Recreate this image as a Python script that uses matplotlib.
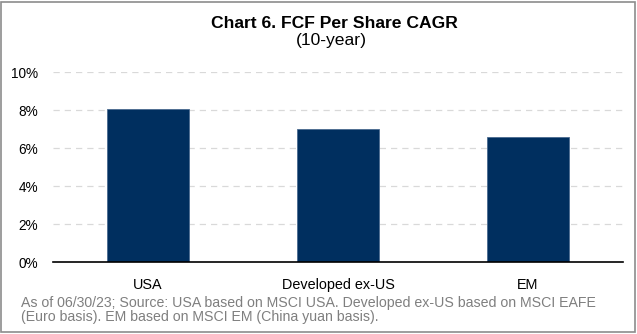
import matplotlib
matplotlib.use("Agg")
from matplotlib import pyplot as plt
from matplotlib.patches import Rectangle

categories = ["USA", "Developed ex-US", "EM"]
cagr = [8.05, 7.0, 6.6]
yticks = [0, 2, 4, 6, 8, 10]
ytick_labels = ["0%", "2%", "4%", "6%", "8%", "10%"]
notes = ["As of 06/30/23; Source: USA based on MSCI USA. Developed ex-US based on MSCI EAFE",
         "(Euro basis). EM based on MSCI EM (China yuan basis)."]

plt.rcParams['font.family'] = ['Liberation Sans', 'DejaVu Sans']

fig = plt.figure(figsize=(6.37, 3.34), dpi=100)
ax = fig.add_axes([53 / 637, 1 - 262 / 334, 570 / 637, 190 / 334])

x = range(len(categories))
ax.bar(x, cagr, width=0.43, color='#002f5f', edgecolor='#4a6a90', linewidth=0.6, zorder=3)

ax.set_ylim(0, 10)
ax.set_xlim(-0.5, 2.5)
ax.set_yticks(yticks)
ax.set_yticklabels(ytick_labels, fontsize=9.8)
ax.set_xticks(list(x))
ax.set_xticklabels(categories, fontsize=10.4)
ax.tick_params(axis='y', length=0, pad=10.5)
ax.tick_params(axis='x', length=0, pad=11.5)

for t in yticks[1:]:
    ax.axhline(t, color='#d9d9d9', linestyle=(0, (5, 4)), linewidth=0.9, zorder=1)

for s in ['top', 'right', 'left']:
    ax.spines[s].set_visible(False)
ax.spines['bottom'].set_color('black')
ax.spines['bottom'].set_linewidth(1.2)
ax.spines['bottom'].set_zorder(4)

fig.text(334 / 637, 1 - 23 / 334, "Chart 6. FCF Per Share CAGR", ha='center', va='center',
         fontsize=12.6, fontweight='bold')
fig.text(331 / 637, 1 - 40.5 / 334, "(10-year)", ha='center', va='center', fontsize=12.6)

for i, line in enumerate(notes):
    fig.text(21 / 637, 1 - (303 + 14.5 * i) / 334, line, ha='left', va='center', fontsize=10.2,
             color='#7f7f7f')

fig.patches.append(Rectangle((1 / 637, 2 / 334), 634 / 637, 330 / 334, transform=fig.transFigure,
                             fill=False, edgecolor='#8c8c8c', linewidth=1.2))

fig.savefig("out.png", dpi=100)
